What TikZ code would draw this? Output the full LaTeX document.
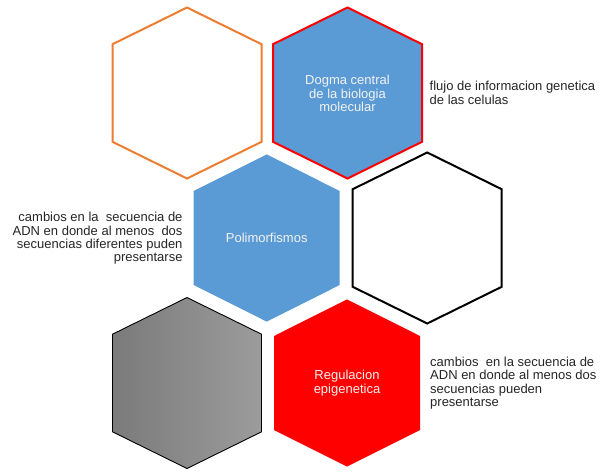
\documentclass[tikz,border=0pt]{standalone}
\usepackage{fontspec}
\setmainfont{Liberation Sans}
\definecolor{hexblue}{HTML}{5B9BD5}
\definecolor{hexorange}{HTML}{ED7D31}
\definecolor{hexred}{HTML}{FF0000}
\newcommand\hexshape[3][]{\path[#1,shift={(#2,#3)}] (0,-85.5) -- (74.5,-48.8) -- (74.5,48.8) -- (0,85.5) -- (-74.5,48.8) -- (-74.5,-48.8) -- cycle;}
\newcommand\hexsmall[3][]{\path[#1,shift={(#2,#3)}] (0,-83.6) -- (73,-47) -- (73,47) -- (0,83.6) -- (-73,47) -- (-73,-47) -- cycle;}
\tikzset{
  intext/.style={text=white!95!black, align=center, font=\fontsize{13}{13.4}\selectfont, inner sep=0pt},
  sidetext/.style={text=black!85, font=\fontsize{13}{13.4}\selectfont, inner sep=0pt},
}
\begin{document}
\begin{tikzpicture}[x=1pt,y=-1pt]
\useasboundingbox[fill=white] (0,0) rectangle (601,472);
% row 1
\hexshape[draw=hexorange, line width=2pt, line join=miter]{187}{93}
\hexshape[draw=hexred, fill=hexblue, line width=2pt, line join=miter]{347.5}{93}
% row 2
\hexsmall[fill=hexblue]{266.7}{238}
\hexshape[draw=black, line width=2pt, line join=miter]{427.2}{238}
% row 3
\hexshape[draw=black, left color=black!52, right color=black!39, line width=0.9pt]{187}{383}
\hexsmall[fill=hexred]{347}{383}
% texts
\node[intext] (dogma) at (347.5,93.5) {Dogma central\\de la biologia\\molecular};
\node[intext] (poli) at (266.7,238) {Polimorfismos};
\node[intext] (regu) at (347,383) {Regulacion\\epigenetica};
\node[sidetext, align=left, anchor=west] (flujo) at (429.5,93) {flujo de informacion genetica\\de las celulas};
\node[sidetext, align=right, anchor=east] (camb1) at (182.7,238.5) {cambios en la~ secuencia de\\ADN en donde al menos~ dos\\secuencias diferentes puden\\presentarse};
\node[sidetext, align=left, anchor=west] (camb2) at (430,383) {cambios~ en la secuencia de\\ADN en donde al menos dos\\secuencias pueden\\presentarse};
\end{tikzpicture}
\end{document}
